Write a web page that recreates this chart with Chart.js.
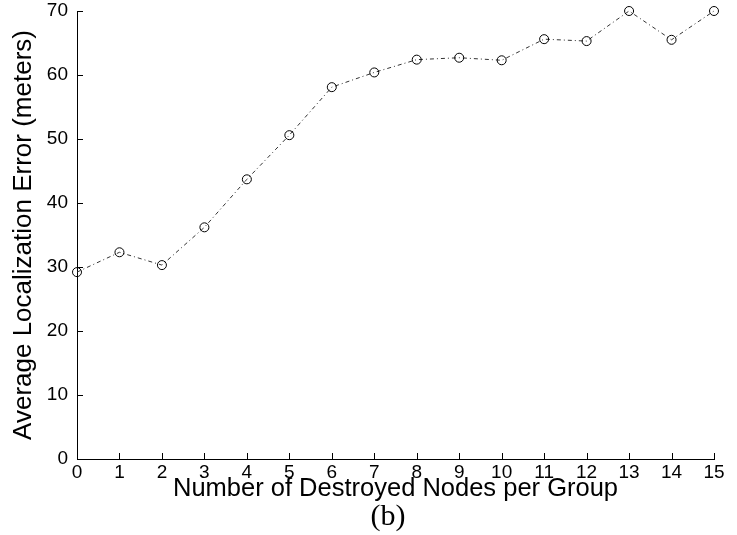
<!DOCTYPE html>
<html>
<head>
<meta charset="utf-8">
<script src="https://cdn.jsdelivr.net/npm/chart.js@4/dist/chart.umd.min.js"></script>
<style>
  html, body { margin: 0; padding: 0; background: #fff; }
  #wrap { width: 737px; height: 535px; position: relative; }
  #rotulo {
    position: absolute; left: 338px; top: 500px; width: 100px;
    text-align: center; font-family: 'Liberation Serif', 'Times New Roman', serif;
    font-size: 30px; line-height: 30px; color: #000;
  }
</style>
</head>
<body>
<div id="wrap"><canvas id="grafico"></canvas><div id="rotulo">(b)</div></div>
<script>
const nodosDestruidos = [0, 1, 2, 3, 4, 5, 6, 7, 8, 9, 10, 11, 12, 13, 14, 15];
const erroMedio = [29.2, 32.3, 30.3, 36.2, 43.7, 50.6, 58.1, 60.4, 62.4, 62.7, 62.3, 65.6, 65.3, 70.0, 65.5, 70.0];
const ticksX = [0, 1, 2, 3, 4, 5, 6, 7, 8, 9, 10, 11, 12, 13, 14, 15];
const ticksY = [0, 10, 20, 30, 40, 50, 60, 70];

const fonteSans = "'Liberation Sans', Arial, Helvetica, sans-serif";

// marcas dos eixos viradas para dentro, como no original
const ticksParaDentro = {
  id: "ticksParaDentro",
  afterDraw(chart) {
    const ctx = chart.ctx;
    const x = chart.scales.x;
    const y = chart.scales.y;
    const area = chart.chartArea;
    ctx.save();
    ctx.strokeStyle = "#000";
    ctx.lineWidth = 1;
    ctx.beginPath();
    ticksX.forEach(v => {
      const px = Math.round(x.getPixelForValue(v)) + 0.5;
      ctx.moveTo(px, area.bottom);
      ctx.lineTo(px, area.bottom - 6);
    });
    ticksY.forEach(v => {
      const py = Math.round(y.getPixelForValue(v)) + 0.5;
      ctx.moveTo(area.left, py);
      ctx.lineTo(area.left + 6, py);
    });
    ctx.stroke();
    ctx.restore();
  }
};

function criarGrafico(canvasId) {
  const ctx = document.getElementById(canvasId).getContext("2d");
  return new Chart(ctx, {
    type: "line",
    data: {
      datasets: [{
        data: nodosDestruidos.map((n, i) => ({ x: n, y: erroMedio[i] })),
        borderColor: "#333",
        borderWidth: 1,
        borderDash: [4, 3, 1, 3],
        tension: 0,
        fill: false,
        pointRadius: 4.5,
        pointBorderWidth: 1,
        pointBorderColor: "#000",
        pointBackgroundColor: "rgba(0,0,0,0)",
        clip: false,
      }],
    },
    options: {
      responsive: false,
      animation: false,
      layout: { autoPadding: false, padding: { top: 11, right: 23, bottom: 30, left: 0 } },
      plugins: {
        legend: { display: false },
        tooltip: { enabled: false },
      },
      scales: {
        x: {
          type: "linear",
          min: 0,
          max: 15,
          afterBuildTicks: (scale) => { scale.ticks = ticksX.map(v => ({ value: v })); },
          afterFit: (scale) => {
            scale.height = 46;
            scale.paddingLeft = 0;
            scale.paddingRight = 0;
          },
          grid: { display: true, drawOnChartArea: false, drawTicks: false },
          border: { display: true, color: "#000", width: 1 },
          ticks: { color: "#000", padding: 2, maxRotation: 0, font: { family: fonteSans, size: 19 } },
          title: {
            display: true,
            text: "Number of Destroyed Nodes per Group",
            color: "#000",
            font: { family: fonteSans, size: 25.5, lineHeight: 1 },
            padding: { top: 0, bottom: 3 },
          },
        },
        y: {
          type: "linear",
          min: 0,
          max: 70,
          afterBuildTicks: (scale) => { scale.ticks = ticksY.map(v => ({ value: v })); },
          afterFit: (scale) => {
            scale.width = 77;
            scale.paddingTop = 0;
            scale.paddingBottom = 0;
          },
          grid: { display: true, drawOnChartArea: false, drawTicks: false },
          border: { display: true, color: "#000", width: 1 },
          ticks: { color: "#000", padding: 9, font: { family: fonteSans, size: 19 } },
          title: {
            display: true,
            text: "Average Localization Error (meters)",
            color: "#000",
            font: { family: fonteSans, size: 26, lineHeight: 1.2 },
            padding: { top: 8, bottom: 0 },
          },
        },
      },
    },
    plugins: [ticksParaDentro],
  });
}

const cv = document.getElementById("grafico");
cv.width = 737;
cv.height = 535;
criarGrafico("grafico");
</script>
</body>
</html>
